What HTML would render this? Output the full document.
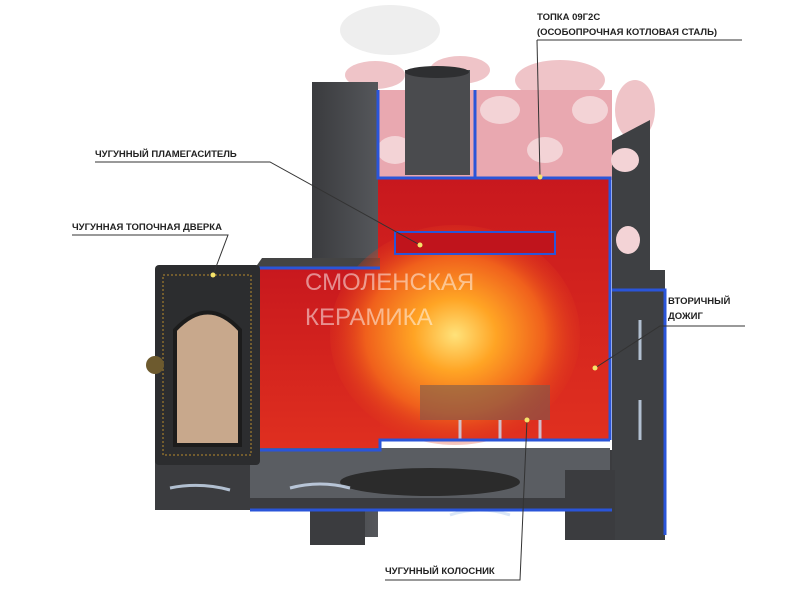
<!DOCTYPE html>
<html><head><meta charset="utf-8"><style>
html,body{margin:0;padding:0;background:#fff;width:800px;height:600px;overflow:hidden}
svg{display:block}
text{font-family:"Liberation Sans",sans-serif;font-weight:bold;font-size:9.5px;fill:#222}
</style></head><body>
<svg width="800" height="600" viewBox="0 0 800 600">
<defs>
<radialGradient id="fire" cx="0.5" cy="0.5" r="0.55">
<stop offset="0" stop-color="#ffe27a"/><stop offset="0.3" stop-color="#ffa424"/><stop offset="0.65" stop-color="#f0601c"/><stop offset="1" stop-color="#d8281c" stop-opacity="0"/>
</radialGradient>
<linearGradient id="red" x1="0" y1="0" x2="0" y2="1"><stop offset="0" stop-color="#c8181e"/><stop offset="1" stop-color="#e0301f"/></linearGradient>
<linearGradient id="metal" x1="0" y1="0" x2="1" y2="0"><stop offset="0" stop-color="#3a3b3e"/><stop offset="1" stop-color="#55575b"/></linearGradient>
</defs>
<ellipse cx="390" cy="30" rx="50" ry="25" fill="#eeeeee"/>
<!-- stones -->
<g fill="#efc4c8">
<ellipse cx="375" cy="75" rx="30" ry="14"/><ellipse cx="460" cy="70" rx="30" ry="14"/><ellipse cx="560" cy="80" rx="45" ry="20"/>
<ellipse cx="635" cy="110" rx="20" ry="30"/><ellipse cx="632" cy="210" rx="16" ry="60"/>
</g>
<!-- main tall body -->
<rect x="312" y="82" width="66" height="455" fill="url(#metal)"/>
<polygon points="612,140 650,120 650,540 612,540" fill="#3e4043"/>
<rect x="612" y="270" width="53" height="270" fill="#3e4043"/>
<rect x="378" y="90" width="234" height="90" fill="#e9a8b0"/>
<g fill="#f3d3d6"><ellipse cx="395" cy="150" rx="18" ry="14"/><ellipse cx="500" cy="110" rx="20" ry="14"/><ellipse cx="545" cy="150" rx="18" ry="13"/><ellipse cx="590" cy="110" rx="18" ry="14"/><ellipse cx="455" cy="100" rx="14" ry="12"/><ellipse cx="625" cy="160" rx="14" ry="12"/><ellipse cx="628" cy="240" rx="12" ry="14"/></g>
<rect x="405" y="70" width="65" height="105" fill="#4a4b4e"/>
<ellipse cx="437" cy="72" rx="32" ry="6" fill="#2e2f31"/>
<!-- firebox -->
<rect x="378" y="178" width="232" height="262" fill="url(#red)"/>
<!-- front box -->
<rect x="255" y="268" width="125" height="185" fill="url(#red)"/>
<polygon points="255,268 380,268 380,258 262,258" fill="#444"/>
<ellipse cx="455" cy="335" rx="125" ry="110" fill="url(#fire)"/>
<rect x="395" y="232" width="160" height="22" fill="#c0141c" stroke="#2a55d9" stroke-width="2"/>
<rect x="420" y="385" width="130" height="35" fill="#7a5a4e" opacity="0.6"/>
<!-- base -->
<rect x="155" y="450" width="457" height="60" fill="#3b3c3f"/>
<rect x="250" y="448" width="360" height="50" fill="#5a5d62"/>
<ellipse cx="430" cy="482" rx="90" ry="14" fill="#2b2b2b"/>
<rect x="310" y="505" width="55" height="40" fill="#3b3c3f"/>
<rect x="565" y="470" width="50" height="70" fill="#3b3c3f"/>
<g fill="none" stroke="#cfe0f5" stroke-width="3" opacity="0.8">
<path d="M170,488 Q200,482 230,490"/><path d="M290,488 Q320,480 350,488"/><path d="M450,515 Q480,505 510,515"/>
<path d="M460,440 L460,420"/><path d="M500,440 L500,420"/><path d="M540,440 L540,420"/>
<path d="M640,320 L640,360"/><path d="M640,400 L640,440"/>
</g>
<!-- blue edges -->
<g fill="none" stroke="#2a55d9" stroke-width="3">
<polyline points="378,90 378,178 475,178 475,90"/>
<polyline points="378,178 610,178 610,440"/>
<polyline points="255,268 380,268"/>
<polyline points="255,450 380,450 380,440 610,440"/>
<polyline points="612,290 665,290 665,535"/>
<line x1="250" y1="510" x2="612" y2="510"/>
</g>
<!-- door -->
<rect x="155" y="265" width="105" height="200" rx="4" fill="#2c2d2f"/>
<rect x="163" y="275" width="88" height="180" fill="none" stroke="#8a6d2e" stroke-width="1.5" stroke-dasharray="2 2"/>
<path d="M175,445 L175,330 Q208,295 240,330 L240,445 Z" fill="#c8a88c" stroke="#1c1c1c" stroke-width="4"/>
<circle cx="155" cy="365" r="9" fill="#6d5a2e"/>
<!-- watermark -->
<text x="305" y="290" style="font-size:24px;font-weight:normal;fill:#ffffff;opacity:0.5">СМОЛЕНСКАЯ</text>
<text x="305" y="325" style="font-size:24px;font-weight:normal;fill:#ffffff;opacity:0.5">КЕРАМИКА</text>
<!-- labels -->
<text x="537" y="20">ТОПКА 09Г2С</text>
<text x="537" y="35">(ОСОБОПРОЧНАЯ КОТЛОВАЯ СТАЛЬ)</text>
<text x="95" y="157">ЧУГУННЫЙ ПЛАМЕГАСИТЕЛЬ</text>
<text x="72" y="230">ЧУГУННАЯ ТОПОЧНАЯ ДВЕРКА</text>
<text x="668" y="304">ВТОРИЧНЫЙ</text>
<text x="668" y="319">ДОЖИГ</text>
<text x="385" y="574">ЧУГУННЫЙ КОЛОСНИК</text>
<g fill="none" stroke="#333" stroke-width="1">
<polyline points="537,40 742,40"/><line x1="537" y1="40" x2="540" y2="177"/>
<polyline points="95,162 270,162 420,245"/>
<polyline points="72,235 228,235 213,275"/>
<polyline points="745,326 660,326 595,368"/>
<polyline points="385,580 520,580 527,420"/>
</g>
<g fill="#f5e36a"><circle cx="540" cy="177" r="2.5"/><circle cx="420" cy="245" r="2.5"/><circle cx="213" cy="275" r="2.5"/><circle cx="595" cy="368" r="2.5"/><circle cx="527" cy="420" r="2.5"/></g>
</svg>
</body></html>
